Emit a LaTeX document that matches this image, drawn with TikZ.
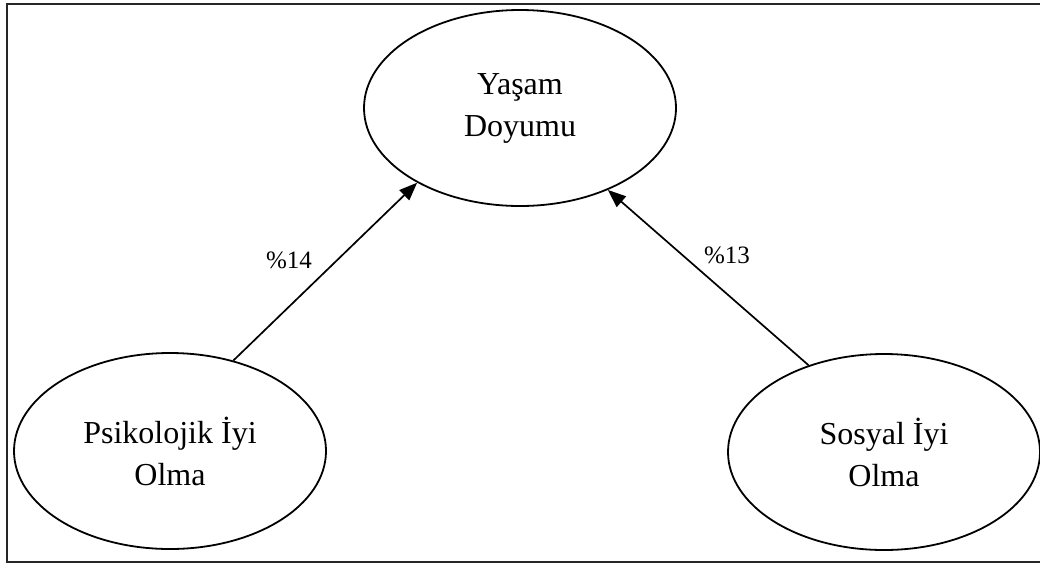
\documentclass[tikz,border=0pt]{standalone}
\usepackage{fontspec}
\setmainfont{Liberation Serif}
\usetikzlibrary{shapes.geometric,arrows.meta}
\begin{document}
\begin{tikzpicture}[x=1pt,y=-1pt,
  var/.style={ellipse,draw,line width=1.8pt,minimum width=312pt,minimum height=196pt,inner sep=0pt,align=center,font=\fontsize{32}{42}\selectfont},
  conn/.style={line width=1.7pt,-{Triangle[length=18pt,width=14pt]}},
  lbl/.style={font=\fontsize{25}{30}\selectfont,inner sep=0pt},
  frame/.style={line width=2.4pt,black!85}]
\useasboundingbox (0,0) rectangle (1040,566);
\draw[frame] (1040,4) -- (7,4) -- (7,562) -- (1040,562);
\node[var] (ys) at (520,108) {Yaşam\\Doyumu};
\node[var] (pi) at (170,451) {Psikolojik İyi\\Olma};
\node[var] (si) at (884,452) {Sosyal İyi\\Olma};
\draw[conn] (pi.55.4) -- (ys.216.4);
\draw[conn] (si.131.5) -- (ys.317.4);
\node[lbl] (l1) at (289,260) {\%14};
\node[lbl] (l2) at (727,255) {\%13};
\end{tikzpicture}
\end{document}
